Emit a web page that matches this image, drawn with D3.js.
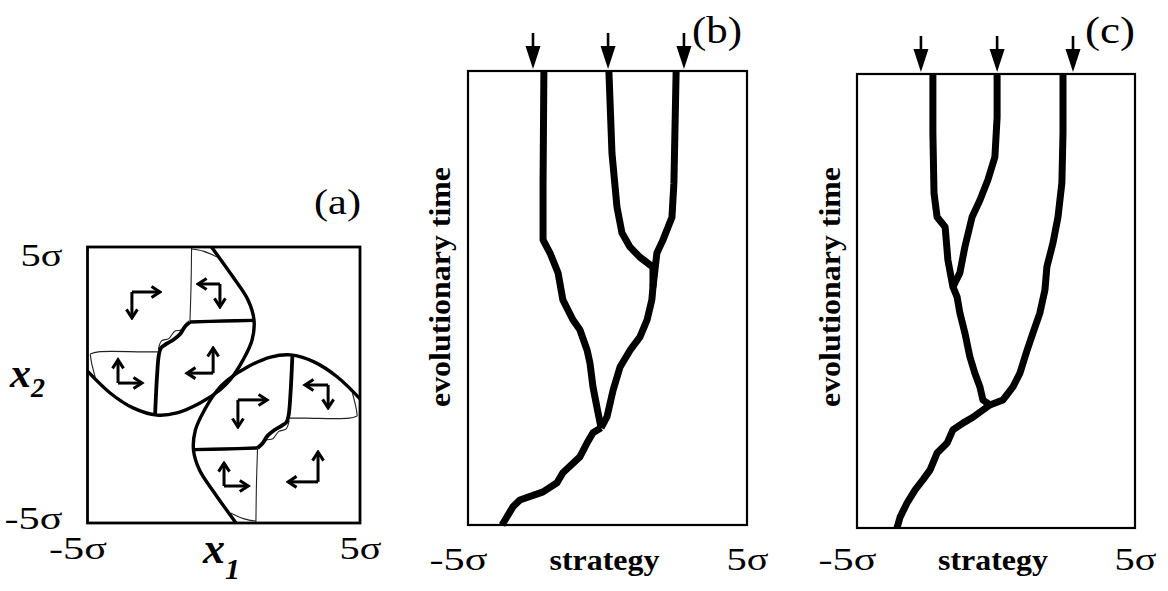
<!DOCTYPE html>
<html>
<head>
<meta charset="utf-8">
<script src="https://cdn.jsdelivr.net/npm/d3@7"></script>
<style>
body { margin: 0; background: #fff; }
svg { display: block; }
</style>
</head>
<body>
<script>
// ---- panel (a): phase plane x1 / x2, in units of sigma ----
const aTicks = [-5, 5];
const aTickLabels = ['-5σ', '5σ'];

// upper-left leaf
const ulOuter = [[-0.45,5.0],[0.34,3.91],[0.89,3.08],[1.11,2.36],[1.04,1.63],[0.71,0.91],[0.23,0.18],[-0.14,-0.18],[-0.87,-0.65],[-1.72,-1.01],[-2.45,-1.09],[-3.33,-0.83],[-4.17,-0.29],[-5.0,0.5]];
const ulStem = [[-2.52,-1.09],[-2.45,0.3],[-2.38,1.1],[-2.3,1.35],[-2.12,1.48],[-1.86,1.63],[-1.6,1.85],[-1.42,2.12],[-1.24,2.28]];
const ulHoriz = [[-1.24,2.28],[0,2.32],[1.11,2.34]];
const ulThin = [
    [[-1.18,5.0],[-1.2,3.6],[-1.24,2.3]],
    [[-1.18,4.93],[-0.75,4.85],[-0.25,4.64]],
    [[-4.9,1.12],[-4.6,1.2],[-3.0,1.2],[-2.4,1.2]],
    [[-4.9,1.12],[-4.85,0.8],[-4.72,0.29]],
    [[-1.3,2.22],[-1.55,2.0],[-1.8,1.95],[-2.02,1.68],[-2.28,1.6],[-2.4,1.3]]
];

// lower-right leaf
const lrOuter = [[0.45,-5.0],[-0.34,-3.91],[-0.89,-3.08],[-1.11,-2.36],[-1.04,-1.63],[-0.71,-0.91],[-0.23,-0.18],[0.14,0.18],[0.87,0.65],[1.72,1.01],[2.45,1.09],[3.33,0.83],[4.17,0.29],[5.0,-0.5]];
const lrStem = [[2.52,1.09],[2.45,-0.3],[2.38,-1.1],[2.3,-1.35],[2.12,-1.48],[1.86,-1.63],[1.6,-1.85],[1.42,-2.12],[1.24,-2.28]];
const lrHoriz = [[1.24,-2.28],[0,-2.32],[-1.11,-2.34]];
const lrThin = [
    [[1.18,-5.0],[1.2,-3.6],[1.24,-2.3]],
    [[1.18,-4.93],[0.75,-4.85],[0.25,-4.64]],
    [[4.9,-1.12],[4.6,-1.2],[3.0,-1.2],[2.4,-1.2]],
    [[4.9,-1.12],[4.85,-0.8],[4.72,-0.29]],
    [[1.3,-2.22],[1.55,-2.0],[1.8,-1.95],[2.02,-1.68],[2.28,-1.6],[2.4,-1.3]]
];

// flow arrows: corner, end of horizontal arm, end of vertical arm
const aArrowCorner = [[-3.37,3.37],[-0.14,3.66],[-0.39,0.43],[-3.88,0.07],[0.52,-0.54],[3.83,0.0],[0.01,-3.66],[3.46,-3.51]];
const aArrowHEnd = [-2.34,-0.94,-1.35,-3.0,1.59,2.98,0.90,2.36];
const aArrowVEnd = [2.43,2.83,1.34,0.91,-1.52,-0.83,-2.83,-2.43];

// ---- panels (b), (c): strategy vs evolutionary time (0..100) ----
const sTicks = [-5, 5];
const bBranches = [
    [[-3.78,0],[-3.39,4.0],[-3.14,5.5],[-2.31,7.3],[-1.81,9.3],[-1.60,11.5],[-0.99,15.0],[-0.73,18.1],[-0.52,20.3],[-0.23,21.4]],
    [[-0.23,21.4],[-0.38,26.0],[-0.52,30.4],[-0.63,35.7],[-0.73,38.5],[-0.99,43.0],[-1.24,45.2],[-1.60,49.6],[-1.77,55.5],[-2.06,59.9],[-2.31,62.8],[-2.31,75.3],[-2.28,100]],
    [[-0.23,21.4],[-0.02,23.8],[0.20,29.7],[0.45,34.8],[0.81,38.5],[1.16,41.4],[1.42,45.2],[1.59,49.6],[1.63,52.4],[1.63,56.8],[1.16,59.0],[0.81,61.2],[0.52,64.3],[0.34,70.0],[0.16,81.9],[0.05,100]],
    [[1.63,52.4],[1.77,59.9],[1.99,62.8],[2.31,67.8],[2.38,75.3],[2.46,100]]
];
const bArrows = [-2.67, 0.02, 2.74];

const cBranches = [
    [[-3.56,0],[-3.45,2.4],[-3.20,5.5],[-2.91,8.4],[-2.63,10.6],[-2.37,12.8],[-2.12,16.5],[-1.76,18.7],[-1.55,21.6],[-1.19,23.1],[-0.83,24.4],[-0.47,26.0],[-0.22,27.1]],
    [[-0.22,27.1],[-0.47,28.2],[-0.58,31.1],[-0.76,34.1],[-0.94,37.7],[-1.12,43.0],[-1.30,47.4],[-1.40,50.9],[-1.55,53.1],[-1.73,59.0],[-1.83,66.3],[-2.12,68.5],[-2.23,73.8],[-2.27,87.0],[-2.27,100]],
    [[-1.55,53.1],[-1.30,56.2],[-1.12,61.9],[-0.86,68.5],[-0.58,72.2],[-0.29,76.7],[-0.04,81.7],[0.04,90.5],[0.04,100]],
    [[-0.22,27.1],[0.25,28.2],[0.61,31.1],[0.86,34.1],[1.12,39.2],[1.33,43.0],[1.58,47.4],[1.76,52.4],[1.83,57.5],[2.05,62.8],[2.23,68.5],[2.37,76.0],[2.41,87.0],[2.41,100]]
];
const cArrows = [-2.70, 0.04, 2.77];

const serif = '"Liberation Serif", "DejaVu Serif", serif';

const svg = d3.select('body')
    .append('svg')
    .attr('width', 1168)
    .attr('height', 591);

svg.append('rect').attr('width', 1168).attr('height', 591).attr('fill', '#fff');

svg.append('defs')
    .append('marker')
    .attr('id', 'chev')
    .attr('viewBox', '0 0 14 14')
    .attr('refX', 11.5)
    .attr('refY', 7)
    .attr('markerWidth', 14)
    .attr('markerHeight', 14)
    .attr('markerUnits', 'userSpaceOnUse')
    .attr('orient', 'auto')
    .append('path')
    .attr('d', 'M3,1.5 L11.5,7 L3,12.5')
    .attr('fill', 'none')
    .attr('stroke', '#000')
    .attr('stroke-width', 3);

// tick label widths of the original typesetting
function labelWidth(d) { return d < 0 ? 58 : 42; }

// ================= panel (a) =================
const ax = d3.scaleLinear().domain([-5, 5]).range([87.5, 360]);
const ay = d3.scaleLinear().domain([-5, 5]).range([523, 247]);
const ga = svg.append('g').attr('class', 'panel-a');

const smooth = d3.line()
    .x(function(d) { return ax(d[0]); })
    .y(function(d) { return ay(d[1]); })
    .curve(d3.curveCatmullRom.alpha(0.5));

[ulThin, lrThin].forEach(function(set) {
    ga.selectAll(null)
        .data(set)
        .enter()
        .append('path')
        .attr('d', smooth)
        .attr('fill', 'none')
        .attr('stroke', '#222')
        .attr('stroke-width', 1.1);
});

[ulOuter, lrOuter, ulHoriz, lrHoriz].forEach(function(pts) {
    ga.append('path')
        .attr('d', smooth(pts))
        .attr('fill', 'none')
        .attr('stroke', '#000')
        .attr('stroke-width', 3.4);
});
[ulStem, lrStem].forEach(function(pts) {
    ga.append('path')
        .attr('d', smooth(pts))
        .attr('fill', 'none')
        .attr('stroke', '#000')
        .attr('stroke-width', 3.8);
});

ga.append('rect')
    .attr('x', ax(-5))
    .attr('y', ay(5))
    .attr('width', ax(5) - ax(-5))
    .attr('height', ay(-5) - ay(5))
    .attr('fill', 'none')
    .attr('stroke', '#000')
    .attr('stroke-width', 2.8);

// L-shaped flow arrows
aArrowCorner.forEach(function(c, i) {
    ga.append('line')
        .attr('x1', ax(c[0])).attr('y1', ay(c[1]))
        .attr('x2', ax(aArrowHEnd[i])).attr('y2', ay(c[1]))
        .attr('stroke', '#000').attr('stroke-width', 3)
        .attr('marker-end', 'url(#chev)');
    ga.append('line')
        .attr('x1', ax(c[0])).attr('y1', ay(c[1]))
        .attr('x2', ax(c[0])).attr('y2', ay(aArrowVEnd[i]))
        .attr('stroke', '#000').attr('stroke-width', 3)
        .attr('marker-end', 'url(#chev)');
});

// axis labels through d3 axes (no ticks drawn)
const aXAxis = d3.axisBottom(ax).tickValues(aTicks).tickSize(0)
    .tickFormat(function(d, i) { return aTickLabels[i]; });
const aYAxis = d3.axisLeft(ay).tickValues(aTicks).tickSize(0)
    .tickFormat(function(d, i) { return aTickLabels[i]; });

const gax = ga.append('g').attr('transform', 'translate(0,' + ay(-5) + ')').call(aXAxis);
gax.select('.domain').remove();
gax.selectAll('text')
    .attr('dy', null)
    .attr('y', 36)
    .attr('dx', function(d) { return d < 0 ? -10 : 0; })
    .attr('textLength', labelWidth).attr('lengthAdjust', 'spacingAndGlyphs')
    .attr('font-family', serif).attr('font-size', 31).attr('fill', '#000');

const gay = ga.append('g').attr('transform', 'translate(' + ax(-5) + ',0)').call(aYAxis);
gay.select('.domain').remove();
gay.selectAll('text')
    .attr('x', -25)
    .attr('dy', function(d) { return d > 0 ? 18 : 5; })
    .attr('textLength', labelWidth).attr('lengthAdjust', 'spacingAndGlyphs')
    .attr('font-family', serif).attr('font-size', 31).attr('fill', '#000');

ga.append('text')
    .attr('x', 314).attr('y', 214)
    .attr('font-family', serif).attr('font-size', 36)
    .attr('textLength', 47).attr('lengthAdjust', 'spacingAndGlyphs')
    .text('(a)');

const x1 = ga.append('text')
    .attr('x', 203).attr('y', 563)
    .attr('font-family', serif).attr('font-size', 44)
    .attr('font-weight', 'bold').attr('font-style', 'italic')
    .text('x');
x1.append('tspan').attr('font-size', 30).attr('dy', 16).text('1');

const x2 = ga.append('text')
    .attr('x', 10).attr('y', 387)
    .attr('font-family', serif).attr('font-size', 42)
    .attr('font-weight', 'bold').attr('font-style', 'italic')
    .text('x');
x2.append('tspan').attr('font-size', 28).attr('dy', 10).text('2');

// ================= panels (b), (c) =================
function drawTree(cfg) {
    const sx = d3.scaleLinear().domain([-5, 5]).range([cfg.left, cfg.right]);
    const sy = d3.scaleLinear().domain([0, 100]).range([cfg.bottom, cfg.top]);
    const g = svg.append('g').attr('class', 'panel-' + cfg.tag);

    const line = d3.line()
        .x(function(d) { return sx(d[0]); })
        .y(function(d) { return sy(d[1]); });

    g.append('rect')
        .attr('x', sx(-5)).attr('y', sy(100))
        .attr('width', sx(5) - sx(-5)).attr('height', sy(0) - sy(100))
        .attr('fill', 'none').attr('stroke', '#000').attr('stroke-width', 2.2);

    g.selectAll('path.branch')
        .data(cfg.branches)
        .enter()
        .append('path')
        .attr('class', 'branch')
        .attr('d', line)
        .attr('fill', 'none')
        .attr('stroke', '#000')
        .attr('stroke-width', 7)
        .attr('stroke-linejoin', 'round')
        .attr('stroke-linecap', 'butt');

    // arrows marking the final strategies
    const top = sy(100);
    g.selectAll('line.stem')
        .data(cfg.arrows)
        .enter()
        .append('line')
        .attr('class', 'stem')
        .attr('x1', function(d) { return sx(d); })
        .attr('x2', function(d) { return sx(d); })
        .attr('y1', top - 38)
        .attr('y2', top - 22)
        .attr('stroke', '#000')
        .attr('stroke-width', 2.6);
    g.selectAll('path.head')
        .data(cfg.arrows)
        .enter()
        .append('path')
        .attr('class', 'head')
        .attr('d', function(d) {
            const x = sx(d);
            return 'M' + (x - 7.5) + ',' + (top - 25) + 'L' + (x + 7.5) + ',' + (top - 25) + 'L' + x + ',' + (top - 2) + 'Z';
        })
        .attr('fill', '#000');

    const axis = d3.axisBottom(sx).tickValues(sTicks).tickSize(0)
        .tickFormat(function(d, i) { return aTickLabels[i]; });
    const gx = g.append('g').attr('transform', 'translate(0,' + sy(0) + ')').call(axis);
    gx.select('.domain').remove();
    gx.selectAll('text')
        .attr('dy', null)
        .attr('y', cfg.labelDrop)
        .attr('dx', function(d) { return d < 0 ? -10 : 0; })
        .attr('textLength', labelWidth).attr('lengthAdjust', 'spacingAndGlyphs')
        .attr('font-family', serif).attr('font-size', 31).attr('fill', '#000');

    g.append('text')
        .attr('x', (sx(-5) + sx(5)) / 2 - 3)
        .attr('y', sy(0) + cfg.labelDrop)
        .attr('text-anchor', 'middle')
        .attr('font-family', serif).attr('font-size', 30).attr('font-weight', 'bold')
        .attr('textLength', 110).attr('lengthAdjust', 'spacingAndGlyphs')
        .text('strategy');

    g.append('text')
        .attr('transform', 'translate(' + cfg.titleX + ',287) rotate(-90)')
        .attr('text-anchor', 'middle')
        .attr('font-family', serif).attr('font-size', 30).attr('font-weight', 'bold')
        .attr('textLength', 240).attr('lengthAdjust', 'spacingAndGlyphs')
        .text('evolutionary time');

    g.append('text')
        .attr('x', cfg.tagX).attr('y', 43)
        .attr('font-family', serif).attr('font-size', 38)
        .attr('textLength', 50).attr('lengthAdjust', 'spacingAndGlyphs')
        .text('(' + cfg.tag + ')');
}

drawTree({ tag: 'b', left: 468, right: 747, top: 71, bottom: 525, branches: bBranches, arrows: bArrows, labelDrop: 45, titleX: 450, tagX: 692 });
drawTree({ tag: 'c', left: 857, right: 1135, top: 74, bottom: 528, branches: cBranches, arrows: cArrows, labelDrop: 42, titleX: 840, tagX: 1085 });
</script>
</body>
</html>
